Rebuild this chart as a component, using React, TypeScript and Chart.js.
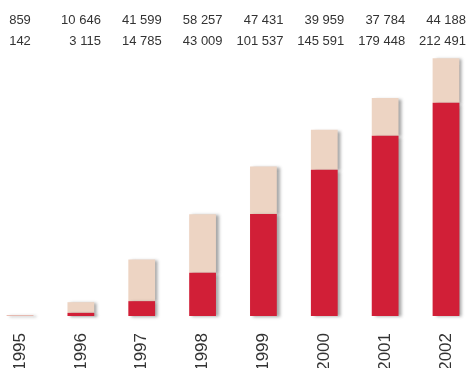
import React, { useEffect, useRef } from "react";
import { Chart, registerables } from "chart.js";

Chart.register(...registerables);

const years = ["1995", "1996", "1997", "1998", "1999", "2000", "2001", "2002"];
const baseValues = [142, 3115, 14785, 43009, 101537, 145591, 179448, 212491];
const topValues = [859, 10646, 41599, 58257, 47431, 39959, 37784, 44188];
const topLabels = ["859", "10 646", "41 599", "58 257", "47 431", "39 959", "37 784", "44 188"];
const baseLabels = ["142", "3 115", "14 785", "43 009", "101 537", "145 591", "179 448", "212 491"];

const numbersPlugin = {
  id: "numbersRows",
  afterDraw(chart: any) {
    const ctx = chart.ctx;
    const xs = chart.scales.x;
    ctx.save();
    ctx.font = "13px 'Liberation Sans', Arial, sans-serif";
    ctx.fillStyle = "#333333";
    ctx.textBaseline = "middle";
    years.forEach((_, i) => {
      const cx = xs.getPixelForValue(i);
      let x = cx + 20;
      ctx.textAlign = "right";
      if (i === 0) {
        ctx.textAlign = "center";
        x = cx;
      }
      ctx.fillText(topLabels[i], x, 20);
      ctx.fillText(baseLabels[i], x, 41);
    });
    ctx.restore();
  },
};

const shadowPlugin = {
  id: "barShadow",
  beforeDatasetsDraw(chart: any) {
    const ctx = chart.ctx;
    ctx.save();
    ctx.shadowColor = "rgba(60,60,60,0.45)";
    ctx.shadowBlur = 3;
    ctx.shadowOffsetX = 3;
    ctx.shadowOffsetY = 1;
  },
  afterDatasetsDraw(chart: any) {
    chart.ctx.restore();
  },
};

export default function App() {
  const ref = useRef<HTMLCanvasElement>(null);
  useEffect(() => {
    if (!ref.current) return;
    const chart = new Chart(ref.current, {
      type: "bar",
      data: {
        labels: years,
        datasets: [
          { data: baseValues, backgroundColor: "#D11F37", clip: false } as any,
          { data: topValues, backgroundColor: "#EDD4C3", clip: false } as any,
        ],
      },
      options: {
        animation: false,
        responsive: false,
        maintainAspectRatio: false,
        layout: { padding: { top: 55, left: 20, right: 23, bottom: 2 } },
        plugins: { legend: { display: false }, tooltip: { enabled: false }, title: { display: false } },
        datasets: { bar: { categoryPercentage: 1, barPercentage: 0.44 } },
        scales: {
          x: {
            stacked: true,
            offset: false,
            grid: { display: false, drawTicks: false },
            border: { display: false },
            afterFit: (scale: any) => {
              scale.height = 52;
              scale.paddingLeft = 0;
              scale.paddingRight = 0;
            },
            ticks: {
              minRotation: 90,
              maxRotation: 90,
              padding: 17,
              color: "#333333",
              font: { size: 17, family: "'Liberation Sans', Arial, sans-serif" },
            },
          },
          y: { stacked: true, display: false, min: 0, max: 260000 },
        },
      },
      plugins: [shadowPlugin, numbersPlugin],
    });
    return () => chart.destroy();
  }, []);
  return (
    <div style={{ position: "fixed", left: 0, top: 0, width: 469, height: 370, background: "#fff" }}>
      <canvas ref={ref} width={469} height={370} style={{ width: 469, height: 370 }} />
    </div>
  );
}
